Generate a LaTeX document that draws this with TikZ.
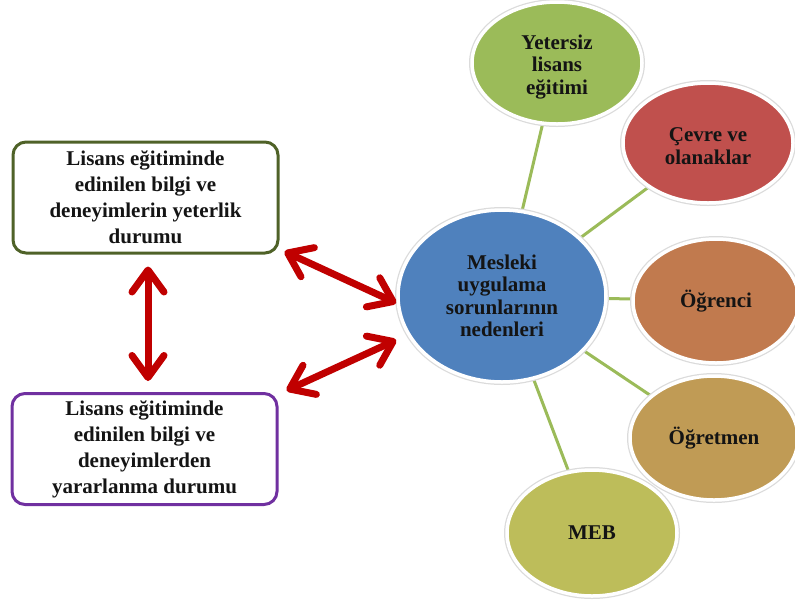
\documentclass[tikz,border=0pt]{standalone}
\usepackage{fontspec}
\setmainfont{Liberation Serif}
\usetikzlibrary{arrows.meta,calc,backgrounds,shapes.geometric}
\definecolor{cblue}{HTML}{4F81BD}
\definecolor{cgreen}{HTML}{9BBB59}
\definecolor{cred}{HTML}{C0504D}
\definecolor{corange}{HTML}{C17A4E}
\definecolor{ctan}{HTML}{C09B55}
\definecolor{colive}{HTML}{BDBD5A}
\definecolor{boxgreen}{HTML}{4F6228}
\definecolor{boxpurple}{HTML}{7030A0}
\definecolor{arrred}{HTML}{C00000}
\definecolor{txt}{HTML}{141414}
\begin{document}
\begin{tikzpicture}[x=1pt,y=-1pt,
  bubble/.style={ellipse, fill=#1, draw=white, line width=3.5pt,
    preaction={draw=black!14, line width=6pt}, inner sep=0pt, align=center,
    font=\fontsize{21}{22.5}\selectfont\bfseries, text=txt},
  infobox/.style={rectangle, rounded corners=13pt, draw=#1, line width=3pt, fill=white,
    minimum width=265pt, minimum height=111pt, align=center, inner sep=0pt,
    font=\fontsize{21}{26}\selectfont\bfseries, text=txt},
  link/.style={draw=cgreen, line width=3pt},
  dbl/.style={draw=arrred, line width=7pt,
    {Straight Barb[length=22pt,width=32pt,round]}-{Straight Barb[length=22pt,width=32pt,round]}}
]
\useasboundingbox (0,0) rectangle (795,606);

\node[infobox=boxgreen] (b1) at (145.5,197.5) {Lisans eğitiminde\\edinilen bilgi ve\\deneyimlerin yeterlik\\durumu};
\node[infobox=boxpurple] (b2) at (144.5,449) {Lisans eğitiminde\\edinilen bilgi ve\\deneyimlerden\\yararlanma durumu};

\node[bubble=cblue, minimum width=208pt, minimum height=172pt] (blue) at (502,296) {Mesleki\\uygulama\\sorunlarının\\nedenleri};
\node[bubble=cgreen, minimum width=170pt, minimum height=122pt] (yet) at (557,63) {\raisebox{-4pt}[\height][\depth]{\parbox{84pt}{\centering Yetersiz\\lisans\\eğitimi}}};
\node[bubble=cred, minimum width=170pt, minimum height=120pt] (cev) at (708,143) {\raisebox{-3pt}[\height][\depth]{\parbox{96pt}{\centering Çevre ve\\olanaklar}}};
\node[bubble=corange, minimum width=166pt, minimum height=124pt] (ogr) at (716,301) {Öğrenci};
\node[bubble=ctan, minimum width=168pt, minimum height=124pt] (ogt) at (714,438) {Öğretmen};
\node[bubble=colive, minimum width=170pt, minimum height=126pt] (meb) at (592,533) {MEB};

\begin{scope}[on background layer]
\draw[link] (blue.center) -- (yet.center);
\draw[link] (blue.center) -- (cev.center);
\draw[link] (blue.center) -- (ogr.center);
\draw[link] (blue.center) -- (ogt.center);
\draw[link] (blue.center) -- (meb.center);
\end{scope}

\draw[dbl] ($(b1.south)+(2.5,12)$) -- ($(b2.north)+(3.5,-11)$);
\draw[dbl] ($(b1.south east)+(5,-3)$) -- ($(blue.west)+(0,7)$);
\draw[dbl] ($(b2.north east)+(8,-1.5)$) -- ($(blue.west)+(0,44)$);
\end{tikzpicture}
\end{document}
